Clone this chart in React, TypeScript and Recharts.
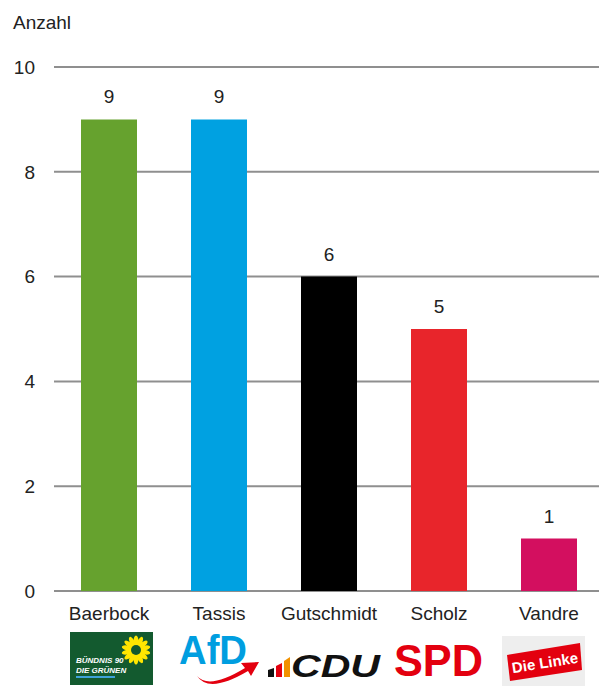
import { BarChart, Bar, XAxis, YAxis, CartesianGrid, LabelList, Cell, Label } from "recharts";

const candidates = ["Baerbock", "Tassis", "Gutschmidt", "Scholz", "Vandre"];
const counts = [9, 9, 6, 5, 1];
const barColors = ["#66a22e", "#00a1e1", "#000000", "#e8252b", "#d30f5f"];
const yTicks = [0, 2, 4, 6, 8, 10];

const data = candidates.map((name, i) => ({ name, count: counts[i] }));

const FONT = "'Liberation Sans', Arial, sans-serif";

function GruenenLogo({ cx }: { cx: number }) {
  const sx = cx + 27;
  const sy = 650;
  const petals = Array.from({ length: 14 }, (_, i) => (i * 360) / 14);
  return (
    <g>
      <rect x={cx - 39} y={632} width={83} height={53} fill="#135a2f" />
      {petals.map((a) => (
        <ellipse
          key={a}
          cx={sx}
          cy={sy - 9}
          rx={2.4}
          ry={5.5}
          fill="#ffe600"
          transform={`rotate(${a} ${sx} ${sy})`}
        />
      ))}
      <circle cx={sx} cy={sy} r={5} fill="#135a2f" />
      <text x={cx - 33} y={663} fill="#fff" fontFamily={FONT} fontWeight="bold" fontStyle="italic" fontSize={8}>
        BÜNDNIS 90
      </text>
      <text x={cx - 33} y={673} fill="#fff" fontFamily={FONT} fontWeight="bold" fontStyle="italic" fontSize={8}>
        DIE GRÜNEN
      </text>
      <rect x={cx - 33} y={676} width={39} height={2} fill="#3fa2d9" />
    </g>
  );
}

function AfdLogo({ cx }: { cx: number }) {
  const x0 = cx - 40;
  return (
    <g>
      <text x={x0} y={664} fill="#009ee0" fontFamily={FONT} fontWeight="bold" fontSize={40} textLength={68} lengthAdjust="spacingAndGlyphs">
        AfD
      </text>
      <path
        d={`M ${x0 + 18} 676 Q ${x0 + 30} 690 ${x0 + 66} 668 L ${x0 + 62} 663 L ${x0 + 80} 662 L ${x0 + 72} 676 L ${x0 + 69} 671 Q ${x0 + 30} 694 ${x0 + 18} 676 Z`}
        fill="#e3000f"
      />
    </g>
  );
}

function CduLogo({ cx }: { cx: number }) {
  const x0 = cx - 62;
  return (
    <g>
      <polygon points={`${x0 + 1},670 ${x0 + 7},668 ${x0 + 7},677 ${x0 + 1},677`} fill="#111" />
      <polygon points={`${x0 + 9},666 ${x0 + 15},663 ${x0 + 15},677 ${x0 + 9},677`} fill="#e3000f" />
      <polygon points={`${x0 + 17},661 ${x0 + 23},657 ${x0 + 23},677 ${x0 + 17},677`} fill="#f29200" />
      <text x={x0 + 24} y={677} fill="#111" fontFamily={FONT} fontWeight="bold" fontStyle="italic" fontSize={31} textLength={89} lengthAdjust="spacingAndGlyphs">
        CDU
      </text>
    </g>
  );
}

function SpdLogo({ cx }: { cx: number }) {
  return (
    <text x={cx - 45} y={676} fill="#e3000f" fontFamily={FONT} fontWeight="bold" fontSize={44} textLength={89} lengthAdjust="spacingAndGlyphs">
      SPD
    </text>
  );
}

function LinkeLogo({ cx }: { cx: number }) {
  const x0 = cx - 47;
  return (
    <g>
      <rect x={x0} y={636} width={83} height={50} fill="#eeeeee" />
      <polygon points={`${x0 + 5},655 ${x0 + 78},643 ${x0 + 80},670 ${x0 + 8},681`} fill="#e3000f" />
      <text
        x={x0 + 43}
        y={668}
        fill="#fff"
        fontFamily={FONT}
        fontWeight="bold"
        fontSize={15}
        textAnchor="middle"
        transform={`rotate(-9 ${x0 + 43} 663)`}
      >
        Die Linke
      </text>
    </g>
  );
}

const logos = [GruenenLogo, AfdLogo, CduLogo, SpdLogo, LinkeLogo];

function CandidateTick(props: any) {
  const { x, payload, index } = props;
  const Logo = logos[index];
  return (
    <g>
      <text x={x} y={620} textAnchor="middle" fill="#222" fontFamily={FONT} fontSize={19}>
        {payload.value}
      </text>
      {Logo ? <Logo cx={x} /> : null}
    </g>
  );
}

export default function App() {
  return (
    <div style={{ position: "absolute", left: 0, top: 0, background: "#fff" }}>
      <BarChart
        width={599}
        height={686}
        data={data}
        margin={{ top: 67, right: -5, left: 0, bottom: 94 }}
        barCategoryGap={27}
      >
        <CartesianGrid vertical={false} stroke="#8f8f8f" strokeWidth={2} />
        <XAxis
          dataKey="name"
          height={1}
          axisLine={false}
          tickLine={false}
          tickSize={0}
          tickMargin={0}
          interval={0}
          tick={<CandidateTick />}
        />
        <YAxis
          width={54}
          domain={[0, 10]}
          ticks={yTicks}
          axisLine={false}
          tickLine={false}
          tickSize={0}
          tickMargin={19}
          tick={{ fill: "#222", fontSize: 19, fontFamily: FONT }}
        >
          <Label
            content={() => (
              <text x={13} y={29} fill="#222" fontFamily={FONT} fontSize={19}>
                Anzahl
              </text>
            )}
          />
        </YAxis>
        <Bar dataKey="count" isAnimationActive={false}>
          {data.map((d, i) => (
            <Cell key={d.name} fill={barColors[i]} />
          ))}
          <LabelList dataKey="count" position="top" offset={16} fill="#222" fontSize={19} fontFamily={FONT} />
        </Bar>
      </BarChart>
    </div>
  );
}
